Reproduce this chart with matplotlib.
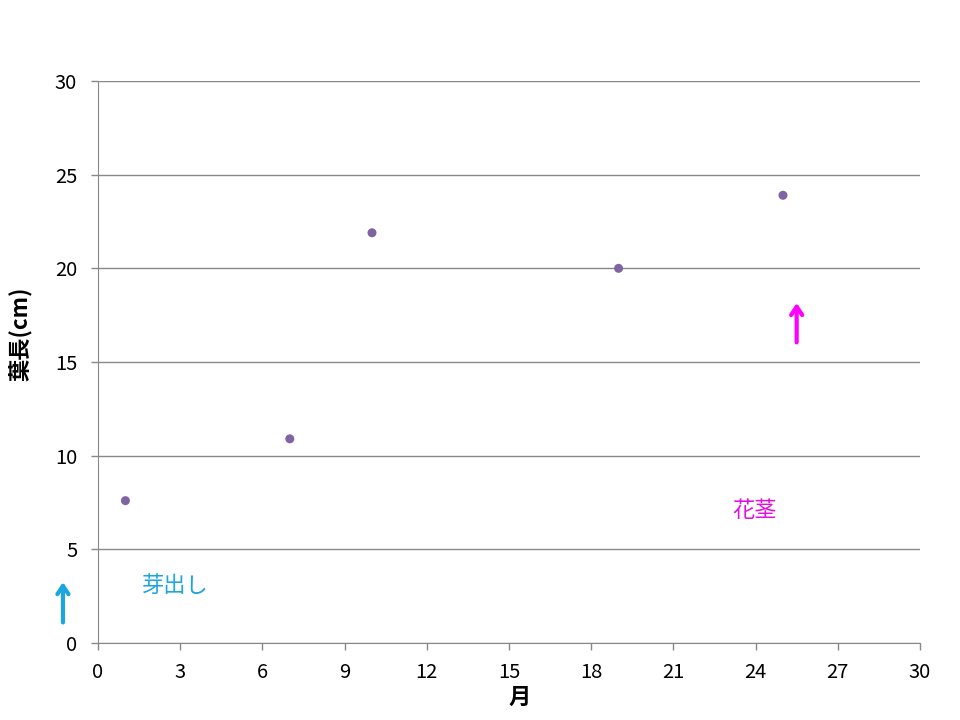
import matplotlib.pyplot as plt

plt.rcParams["font.family"] = ["Noto Sans CJK JP", "DejaVu Sans"]

# 月 vs 葉長(cm)
months = [1, 7, 10, 19, 25]
leaf_len = [7.6, 10.9, 21.9, 20.0, 23.9]

x_ticks = list(range(0, 31, 3))
y_ticks = list(range(0, 31, 5))


def main():
    fig = plt.figure(figsize=(9.6, 7.2), dpi=100)
    ax = fig.add_axes([0.1021, 0.1069, 0.8562, 0.7806])

    ax.scatter(months, leaf_len, s=42, color="#8064A2", zorder=3, edgecolors="none")

    ax.set_xlim(0, 30)
    ax.set_ylim(0, 30)
    ax.set_xticks(x_ticks)
    ax.set_yticks(y_ticks)
    ax.yaxis.grid(True, color="#888888", lw=1.0)
    ax.set_axisbelow(True)
    for side in ["top", "right"]:
        ax.spines[side].set_visible(False)
    for side in ["left", "bottom"]:
        ax.spines[side].set_color("#888888")
    ax.tick_params(axis="both", colors="#888888", labelcolor="black", labelsize=14.5, length=5, width=1.0)
    ax.tick_params(axis="x", pad=9)
    ax.tick_params(axis="y", pad=10)

    ax.set_ylabel("葉長(cm)", fontsize=16, fontweight="bold", va="center")
    ax.yaxis.set_label_coords(-0.095, 0.55)
    ax.set_xlabel("月", fontsize=16, fontweight="bold", va="center")
    ax.xaxis.set_label_coords(0.513, -0.096)

    ax.annotate("", xy=(-1.28, 3.4), xytext=(-1.28, 0.95), annotation_clip=False,
                arrowprops=dict(arrowstyle="->,head_length=0.6,head_width=0.4", color="#1BA6E0", lw=3))
    ax.text(1.6, 3.05, "芽出し", color="#1BA6E0", fontsize=16, ha="left", va="center")

    ax.annotate("", xy=(25.5, 18.3), xytext=(25.5, 15.9),
                arrowprops=dict(arrowstyle="->,head_length=0.6,head_width=0.4", color="#FF00FF", lw=3))
    ax.text(23.15, 7.1, "花茎", color="#E010E0", fontsize=16, ha="left", va="center")

    fig.savefig("out.png", dpi=100)


if __name__ == "__main__":
    main()
